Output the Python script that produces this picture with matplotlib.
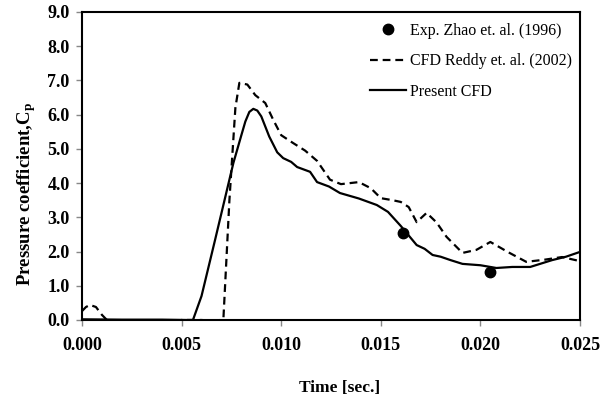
import matplotlib
matplotlib.use("Agg")
import matplotlib.pyplot as plt

plt.rcParams['font.family'] = ['Liberation Serif', 'DejaVu Serif']
plt.rcParams['mathtext.fontset'] = 'custom'
plt.rcParams['mathtext.rm'] = 'Liberation Serif:bold'
plt.rcParams['mathtext.it'] = 'Liberation Serif:bold'
plt.rcParams['mathtext.bf'] = 'Liberation Serif:bold'

# Experimental data (Zhao et al. 1996)
exp_t = [0.0161, 0.0205]
exp_cp = [2.55, 1.40]

# CFD Reddy et al. (2002)
reddy_t = [0.0000, 0.0002, 0.0004, 0.0007, 0.0010, 0.00125, 0.0020, 0.0030, 0.0040, 0.0045,
           0.0050, 0.0060, 0.0068, 0.0071, 0.0074, 0.0077, 0.0079, 0.0083, 0.0087, 0.0092,
           0.0096, 0.0100, 0.0106, 0.0112, 0.0118, 0.01245, 0.0130, 0.0139, 0.0145,
           0.0150, 0.0156, 0.0160, 0.0164, 0.0168, 0.0173, 0.0178, 0.0183, 0.0191,
           0.0198, 0.0205, 0.0214, 0.0223, 0.0232, 0.0241, 0.0250]
reddy_cp = [0.26, 0.38, 0.44, 0.38, 0.15, 0.00, -0.03, -0.02, -0.02, -0.05,
            0.00, 0.00, -0.03, 0.05, 3.5, 6.2, 6.93, 6.88, 6.57, 6.34,
            5.85, 5.40, 5.17, 4.95, 4.65, 4.10, 3.97, 4.03, 3.85,
            3.56, 3.50, 3.45, 3.30, 2.86, 3.13, 2.85, 2.43, 1.96,
            2.05, 2.28, 1.98, 1.70, 1.76, 1.84, 1.72]

# Present CFD
present_t = [0.0000, 0.0020, 0.0040, 0.0052, 0.00557, 0.0060, 0.00668, 0.0076, 0.0080,
             0.0082, 0.0084, 0.0086, 0.0088, 0.0090, 0.0094, 0.0098, 0.0101, 0.0105, 0.0108, 0.01145,
             0.0118, 0.0124, 0.01295, 0.0139, 0.0148, 0.01536, 0.0160, 0.0168,
             0.0172, 0.0176, 0.0180, 0.0185, 0.0191, 0.0200, 0.0208, 0.0216, 0.0225,
             0.0236, 0.0243, 0.0250]
present_cp = [0.02, 0.01, 0.01, 0.00, 0.00, 0.70, 2.34, 4.59, 5.40,
              5.80, 6.08, 6.17, 6.12, 5.95, 5.36, 4.90, 4.73, 4.62, 4.47, 4.33,
              4.03, 3.90, 3.71, 3.55, 3.36, 3.16, 2.75, 2.19,
              2.08, 1.90, 1.85, 1.75, 1.64, 1.60, 1.52, 1.55, 1.55,
              1.75, 1.85, 1.99]

x_ticks = [0.000, 0.005, 0.010, 0.015, 0.020, 0.025]
x_tick_labels = ['0.000', '0.005', '0.010', '0.015', '0.020', '0.025']
y_ticks = [0, 1, 2, 3, 4, 5, 6, 7, 8, 9]
y_tick_labels = ['0.0', '1.0', '2.0', '3.0', '4.0', '5.0', '6.0', '7.0', '8.0', '9.0']

fig = plt.figure(figsize=(6.06, 3.98), dpi=100)
ax = fig.add_axes([82/606, 1-320/398, (580-82)/606, (320-12)/398])

ax.plot(exp_t, exp_cp, 'o', color='black', markersize=7.5, label='Exp. Zhao et. al. (1996)', zorder=4)
ax.plot(reddy_t, reddy_cp, '--', color='black', lw=1.6, dashes=(3.5, 2.2), label='CFD Reddy et. al. (2002)')
ax.plot(present_t, present_cp, '-', color='black', lw=1.6, label='Present CFD')

ax.set_xlim(0, 0.025)
ax.set_ylim(0, 9)
ax.set_xticks(x_ticks)
ax.set_xticklabels(x_tick_labels)
ax.set_yticks(y_ticks)
ax.set_yticklabels(y_tick_labels)

for lab in ax.get_xticklabels() + ax.get_yticklabels():
    lab.set_fontweight('bold')
    lab.set_fontsize(13)

ax.tick_params(axis='both', direction='out', length=4, width=1, color='#888888')
ax.tick_params(axis='x', pad=8)
ax.tick_params(axis='y', pad=5)

for s in ax.spines.values():
    s.set_linewidth(1.5)
    s.set_color('black')

ax.set_xlabel('Time [sec.]', fontsize=12.5, fontweight='bold')
ax.xaxis.set_label_coords(0.518, -0.195)
ax.set_ylabel(r'Pressure coefficient,C$_\mathrm{p}$', fontsize=13.5, fontweight='bold')
ax.yaxis.set_label_coords(-0.088, 0.41)

leg = ax.legend(loc='upper right', bbox_to_anchor=(0.983, 0.965), frameon=False, fontsize=11.5,
                handlelength=2.3, handletextpad=0.2, labelspacing=0.91, borderaxespad=0,
                borderpad=0)

fig.savefig('out.png', dpi=100)
